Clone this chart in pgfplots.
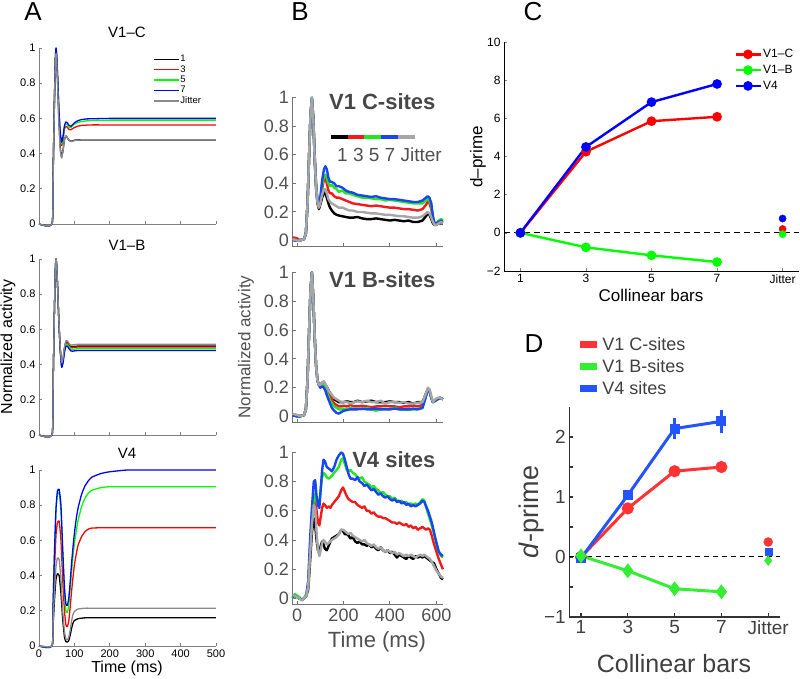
\documentclass[border=0pt]{standalone}
\usepackage{fontspec}
\setmainfont{Liberation Sans}
\usepackage{pgfplots}
\usepackage{pgfplotstable}
\pgfplotsset{compat=1.18}
\newcommand\fs[1]{\fontsize{#1}{#1}\selectfont}

\definecolor{agray}{HTML}{8A8A8A}
\definecolor{bred}{HTML}{F01C1C}
\definecolor{bgreen}{HTML}{22E622}
\definecolor{bblue}{HTML}{1846F0}
\definecolor{bgray}{HTML}{A6A6A6}
\definecolor{dred}{HTML}{FF3333}
\definecolor{dgreen}{HTML}{33EE33}
\definecolor{dblue}{HTML}{2255FF}
\definecolor{ink}{HTML}{505050}

% model time courses (A): t, 1, 3, 5, 7, jitter
\pgfplotstableread{
t   k1    k3    k5    k7    kj
0   0     0     0     0     0
37  0     0     0     0     0
40  0.28  0.3   0.3   0.3   0.28
43  0.62  0.65  0.65  0.65  0.62
46  0.9   0.93  0.93  0.93  0.9
48  0.97  0.99  1     1     0.97
50  0.93  0.95  0.96  0.96  0.92
53  0.78  0.81  0.82  0.82  0.77
56  0.6   0.65  0.66  0.66  0.58
60  0.44  0.5   0.51  0.52  0.42
64  0.38  0.445 0.455 0.465 0.375
68  0.42  0.48  0.49  0.5   0.42
72  0.48  0.54  0.55  0.56  0.48
76  0.5   0.555 0.57  0.58  0.5
80  0.49  0.55  0.565 0.575 0.49
85  0.475 0.537 0.55  0.56  0.475
90  0.47  0.535 0.548 0.555 0.468
95  0.472 0.542 0.558 0.565 0.47
100 0.476 0.548 0.567 0.575 0.474
110 0.478 0.556 0.577 0.587 0.477
120 0.478 0.56  0.582 0.593 0.478
135 0.478 0.562 0.586 0.597 0.478
150 0.478 0.563 0.588 0.598 0.478
175 0.478 0.563 0.589 0.599 0.478
200 0.478 0.563 0.59  0.6   0.478
300 0.478 0.563 0.59  0.6   0.478
500 0.478 0.563 0.59  0.6   0.478
}\tabAc
\pgfplotstableread{
t   k1    k3    k5    k7    kj
0   0     0     0     0     0
37  0     0     0     0     0
40  0.3   0.3   0.3   0.3   0.3
43  0.65  0.65  0.65  0.65  0.65
46  0.93  0.93  0.93  0.93  0.93
48  1     1     1     1     1
50  0.96  0.96  0.96  0.96  0.96
53  0.82  0.82  0.82  0.82  0.82
56  0.65  0.65  0.65  0.65  0.66
60  0.49  0.49  0.48  0.48  0.5
64  0.4   0.395 0.39  0.385 0.41
68  0.43  0.425 0.42  0.41  0.44
72  0.495 0.49  0.48  0.47  0.5
76  0.528 0.522 0.515 0.505 0.535
80  0.528 0.522 0.515 0.505 0.535
85  0.513 0.508 0.5   0.49  0.52
90  0.503 0.497 0.488 0.478 0.51
95  0.502 0.496 0.486 0.476 0.512
100 0.504 0.498 0.488 0.478 0.514
110 0.505 0.5   0.49  0.48  0.515
120 0.505 0.5   0.49  0.48  0.515
135 0.505 0.5   0.49  0.48  0.515
150 0.505 0.5   0.49  0.48  0.515
175 0.505 0.5   0.49  0.48  0.515
200 0.505 0.5   0.49  0.48  0.515
300 0.505 0.5   0.49  0.48  0.515
500 0.505 0.5   0.49  0.48  0.515
}\tabAb
\pgfplotstableread{
t   k1    k3    k5    k7    kj
0   0     0     0     0     0
37  0     0     0     0     0
40  0.12  0.2   0.25  0.25  0.15
44  0.27  0.45  0.55  0.55  0.32
48  0.38  0.63  0.77  0.78  0.45
52  0.41  0.7   0.86  0.88  0.5
57  0.4   0.71  0.87  0.89  0.49
62  0.3   0.6   0.77  0.8   0.38
67  0.15  0.38  0.52  0.55  0.2
72  0.05  0.2   0.3   0.33  0.08
76  0.025 0.12  0.2   0.24  0.04
80  0.022 0.11  0.19  0.23  0.035
84  0.03  0.14  0.23  0.27  0.05
88  0.06  0.22  0.32  0.36  0.09
92  0.1   0.31  0.42  0.47  0.14
96  0.13  0.39  0.51  0.56  0.18
100 0.145 0.46  0.58  0.64  0.195
105 0.15  0.52  0.65  0.72  0.205
110 0.155 0.57  0.71  0.78  0.21
120 0.158 0.62  0.79  0.86  0.213
130 0.16  0.65  0.84  0.91  0.215
140 0.16  0.665 0.87  0.94  0.215
150 0.16  0.67  0.885 0.96  0.215
175 0.16  0.672 0.9   0.98  0.215
200 0.16  0.672 0.905 0.99  0.215
250 0.16  0.672 0.905 1     0.215
300 0.16  0.672 0.905 1     0.215
500 0.16  0.672 0.905 1     0.215
}\tabAv

% recorded time courses (B)
\pgfplotstableread{
t    k1    k3    k5    k7    kj
-20  0.01  0.02  0.01  0.005 0.01
-10  0.005 0.02  0.005 0     0.005
0    0     0.015 0     0     0
10   0     0.005 0     0     0
20   0.005 0.005 0.005 0.005 0.005
30   0.01  0.01  0.01  0.01  0.01
38   0.05  0.05  0.05  0.05  0.05
45   0.25  0.25  0.25  0.25  0.25
52   0.6   0.6   0.6   0.6   0.6
58   0.88  0.88  0.88  0.88  0.88
64   0.99  0.99  1     1     1
70   0.84  0.85  0.86  0.86  0.85
76   0.56  0.58  0.59  0.59  0.57
82   0.36  0.38  0.39  0.39  0.37
88   0.26  0.27  0.28  0.28  0.27
94   0.22  0.23  0.24  0.24  0.23
100  0.25  0.27  0.29  0.3   0.26
108  0.3   0.36  0.39  0.42  0.32
116  0.34  0.43  0.45  0.5   0.36
122  0.33  0.44  0.46  0.52  0.36
128  0.3   0.4   0.44  0.5   0.33
135  0.26  0.35  0.4   0.44  0.29
142  0.23  0.33  0.38  0.41  0.27
150  0.21  0.33  0.39  0.41  0.26
160  0.19  0.31  0.37  0.4   0.25
170  0.18  0.3   0.36  0.38  0.24
180  0.175 0.3   0.34  0.38  0.23
195  0.17  0.29  0.35  0.37  0.23
210  0.165 0.28  0.33  0.35  0.22
225  0.16  0.27  0.33  0.34  0.21
240  0.16  0.26  0.32  0.335 0.21
260  0.165 0.255 0.31  0.32  0.2
280  0.155 0.25  0.3   0.315 0.2
300  0.15  0.245 0.3   0.31  0.195
320  0.15  0.24  0.295 0.305 0.19
340  0.155 0.245 0.29  0.31  0.19
360  0.15  0.24  0.29  0.3   0.185
380  0.145 0.235 0.28  0.295 0.18
400  0.14  0.23  0.285 0.29  0.18
420  0.145 0.23  0.28  0.29  0.175
440  0.14  0.225 0.275 0.285 0.17
460  0.135 0.22  0.27  0.28  0.17
480  0.14  0.22  0.265 0.275 0.165
500  0.13  0.215 0.26  0.27  0.16
520  0.13  0.21  0.26  0.27  0.16
540  0.14  0.22  0.26  0.28  0.17
555  0.17  0.25  0.28  0.3   0.19
562  0.19  0.27  0.29  0.31  0.2
570  0.18  0.26  0.28  0.3   0.19
578  0.15  0.22  0.24  0.26  0.16
585  0.12  0.15  0.16  0.17  0.13
592  0.11  0.12  0.12  0.12  0.11
600  0.11  0.12  0.12  0.12  0.11
610  0.12  0.13  0.14  0.13  0.12
620  0.12  0.13  0.15  0.14  0.13
628  0.12  0.13  0.14  0.13  0.12
}\tabBc
\pgfplotstableread{
t    k1    k3    k5    k7    kj
-20  0.01  0.015 0.01  0.005 0.02
-10  0.01  0.01  0.005 0.005 0.015
0    0.005 0.01  0     0     0.01
10   0     0.005 0     0     0.005
20   0.005 0.005 0.005 0.005 0.005
30   0.01  0.01  0.01  0.01  0.01
38   0.05  0.05  0.05  0.05  0.05
45   0.25  0.25  0.25  0.25  0.25
52   0.6   0.6   0.6   0.6   0.6
58   0.88  0.88  0.88  0.88  0.88
64   1     1     1     1     1
70   0.82  0.82  0.82  0.82  0.82
76   0.55  0.55  0.55  0.55  0.55
82   0.35  0.35  0.35  0.35  0.35
88   0.25  0.25  0.25  0.25  0.25
94   0.22  0.22  0.22  0.22  0.22
100  0.22  0.22  0.21  0.2   0.22
108  0.235 0.23  0.22  0.21  0.235
115  0.24  0.235 0.22  0.2   0.245
122  0.22  0.21  0.2   0.18  0.225
130  0.2   0.18  0.16  0.14  0.2
140  0.17  0.15  0.12  0.1   0.17
150  0.14  0.12  0.09  0.06  0.15
160  0.12  0.09  0.07  0.04  0.13
170  0.11  0.08  0.06  0.025 0.12
180  0.1   0.07  0.05  0.02  0.11
190  0.1   0.07  0.05  0.03  0.1
200  0.1   0.075 0.055 0.04  0.1
215  0.105 0.07  0.05  0.045 0.1
230  0.1   0.08  0.06  0.05  0.09
245  0.1   0.07  0.05  0.05  0.1
260  0.11  0.07  0.055 0.05  0.105
280  0.1   0.075 0.05  0.055 0.1
300  0.105 0.07  0.06  0.05  0.11
320  0.11  0.065 0.05  0.05  0.1
340  0.1   0.07  0.04  0.055 0.1
360  0.1   0.07  0.05  0.05  0.11
380  0.1   0.075 0.055 0.05  0.09
400  0.105 0.07  0.05  0.05  0.1
420  0.1   0.07  0.06  0.055 0.1
440  0.1   0.065 0.05  0.05  0.095
460  0.095 0.07  0.05  0.05  0.1
480  0.1   0.07  0.045 0.05  0.09
500  0.09  0.075 0.05  0.055 0.09
520  0.1   0.07  0.05  0.05  0.095
540  0.1   0.08  0.06  0.06  0.1
555  0.16  0.15  0.14  0.14  0.16
563  0.19  0.19  0.19  0.19  0.2
570  0.18  0.18  0.18  0.18  0.19
578  0.13  0.13  0.13  0.13  0.14
585  0.1   0.1   0.1   0.1   0.1
595  0.11  0.11  0.11  0.11  0.12
605  0.12  0.12  0.12  0.12  0.13
615  0.13  0.13  0.13  0.13  0.13
628  0.12  0.12  0.12  0.12  0.12
}\tabBb
\pgfplotstableread{
t    k1    k3    k5    k7    kj
-20  0.01  0.01  0     0.01  0.02
-10  0.02  0.02  0.03  0.02  0.02
0    0.01  0.01  0.02  0.01  0.01
10   0     0     0.01  0     0
20   -0.01 -0.01 -0.01 -0.01 -0.015
30   0     0     0     0     0
40   0.02  0.02  0.03  0.02  0.02
48   0.06  0.08  0.1   0.12  0.08
56   0.25  0.3   0.35  0.4   0.3
64   0.45  0.55  0.55  0.62  0.5
72   0.55  0.67  0.68  0.8   0.64
78   0.5   0.7   0.72  0.81  0.62
84   0.4   0.6   0.66  0.7   0.45
90   0.33  0.52  0.64  0.64  0.33
96   0.31  0.5   0.66  0.62  0.29
102  0.36  0.56  0.75  0.75  0.33
108  0.39  0.62  0.83  0.88  0.38
114  0.37  0.65  0.86  0.95  0.4
120  0.34  0.64  0.85  0.94  0.39
128  0.33  0.62  0.83  0.9   0.37
136  0.36  0.63  0.82  0.89  0.38
144  0.39  0.62  0.83  0.88  0.39
150  0.41  0.64  0.84  0.87  0.4
160  0.42  0.66  0.86  0.9   0.41
170  0.43  0.68  0.88  0.95  0.42
180  0.44  0.7   0.9   0.98  0.44
190  0.47  0.74  0.95  1     0.47
198  0.46  0.76  0.96  0.99  0.47
206  0.44  0.73  0.92  0.95  0.46
214  0.44  0.7   0.88  0.9   0.45
222  0.43  0.68  0.87  0.85  0.44
230  0.41  0.67  0.88  0.82  0.45
240  0.42  0.66  0.86  0.82  0.43
250  0.39  0.66  0.85  0.81  0.42
260  0.38  0.64  0.83  0.83  0.41
270  0.39  0.63  0.82  0.8   0.4
280  0.37  0.62  0.83  0.79  0.39
290  0.37  0.63  0.8   0.77  0.4
300  0.36  0.6   0.79  0.78  0.38
310  0.37  0.6   0.78  0.76  0.37
320  0.35  0.58  0.76  0.74  0.36
330  0.36  0.59  0.77  0.75  0.37
340  0.34  0.57  0.75  0.73  0.35
350  0.33  0.56  0.74  0.71  0.34
360  0.35  0.56  0.72  0.72  0.35
370  0.33  0.55  0.73  0.7   0.33
380  0.32  0.55  0.71  0.69  0.32
390  0.33  0.54  0.7   0.7   0.33
400  0.31  0.53  0.7   0.68  0.32
410  0.32  0.52  0.68  0.67  0.31
420  0.3   0.52  0.69  0.68  0.32
430  0.28  0.51  0.67  0.66  0.3
440  0.3   0.52  0.66  0.67  0.31
450  0.29  0.51  0.67  0.65  0.3
460  0.28  0.5   0.65  0.66  0.29
470  0.27  0.51  0.66  0.64  0.3
480  0.29  0.49  0.64  0.65  0.29
490  0.28  0.5   0.65  0.63  0.3
500  0.27  0.48  0.64  0.64  0.29
510  0.29  0.49  0.65  0.63  0.28
520  0.28  0.47  0.64  0.64  0.29
530  0.29  0.48  0.66  0.65  0.3
540  0.28  0.49  0.68  0.67  0.29
548  0.29  0.48  0.67  0.66  0.3
556  0.28  0.47  0.62  0.63  0.29
564  0.27  0.48  0.58  0.6   0.28
572  0.26  0.47  0.54  0.56  0.27
580  0.25  0.43  0.5   0.52  0.25
590  0.24  0.37  0.44  0.45  0.22
600  0.2   0.32  0.38  0.38  0.19
610  0.17  0.27  0.32  0.32  0.17
620  0.14  0.23  0.29  0.3   0.15
628  0.13  0.2   0.28  0.29  0.14
}\tabBv

\pgfplotsset{
  /pgf/number format/assume math mode=true,
  Abase/.style={scale only axis, width=177pt, height=176pt,
    xmin=0, xmax=500, ymin=0, ymax=1,
    axis x line*=bottom, axis y line*=left, tick align=inside, major tick length=3pt,
    axis line style={draw=black!50, line width=0.6pt}, tick style={black!50, line width=0.6pt},
    xtick={0,100,200,300,400,500}, ytick={0,0.2,0.4,0.6,0.8,1},
    yticklabels={0,0.2,0.4,0.6,0.8,1},
    tick label style={font=\fs{11}}, clip=false,
    every axis plot/.append style={line width=1.3pt, smooth, tension=0.3, line join=round}},
  Bbase/.style={scale only axis, width=151pt, height=150pt,
    xmin=-20, xmax=630, ymin=-0.045, ymax=1,
    axis x line*=bottom, axis y line*=left, tick align=inside, major tick length=4pt,
    axis line style={draw=black!55, line width=1pt}, tick style={black!55, line width=1pt},
    xtick={0,200,400,600}, ytick={0,0.2,0.4,0.6,0.8,1},
    yticklabels={0,0.2,0.4,0.6,0.8,1},
    tick label style={font=\fs{18}, text=ink}, clip=false,
    every axis plot/.append style={line width=2.4pt, line join=round}},
}

\begin{document}
\begin{tikzpicture}[x=1pt,y=1pt]
\useasboundingbox (0,0) rectangle (800,679);

% ---------- A ----------
\begin{axis}[Abase, at={(39pt,455pt)}, anchor=south west, xticklabels={},
  legend style={at={(0.644,0.965)}, anchor=north west, draw=none, fill=none,
    font=\fs{9.5}, row sep=0.3pt, inner sep=0pt, nodes={inner sep=1pt}},
  legend cell align=left,
  legend image code/.code={\draw[#1] (0pt,0pt) -- (25pt,0pt);}]
\addplot[black] table[x=t,y=k1]{\tabAc};
\addplot[red] table[x=t,y=k3]{\tabAc};
\addplot[green] table[x=t,y=k5]{\tabAc};
\addplot[blue] table[x=t,y=k7]{\tabAc};
\addplot[agray] table[x=t,y=kj]{\tabAc};
\legend{1,3,5,7,Jitter}
\end{axis}
\begin{axis}[Abase, at={(39pt,244pt)}, anchor=south west, xticklabels={}]
\addplot[black] table[x=t,y=k1]{\tabAb};
\addplot[red] table[x=t,y=k3]{\tabAb};
\addplot[green] table[x=t,y=k5]{\tabAb};
\addplot[blue] table[x=t,y=k7]{\tabAb};
\addplot[agray] table[x=t,y=kj]{\tabAb};
\end{axis}
\begin{axis}[Abase, at={(39pt,33pt)}, anchor=south west]
\addplot[black] table[x=t,y=k1]{\tabAv};
\addplot[red] table[x=t,y=k3]{\tabAv};
\addplot[green] table[x=t,y=k5]{\tabAv};
\addplot[blue] table[x=t,y=k7]{\tabAv};
\addplot[agray] table[x=t,y=kj]{\tabAv};
\end{axis}
\node[font=\fs{26}] at (33,667) {A};
\node[font=\fs{15}] at (127,647) {V1–C};
\node[font=\fs{15}] at (127,434) {V1–B};
\node[font=\fs{15}] at (127,226) {V4};
\node[font=\fs{16}] at (127,11) {Time (ms)};
\node[font=\fs{16}, rotate=90] at (8,332) {Normalized activity};

% ---------- B ----------
\begin{axis}[Bbase, at={(292.4pt,432pt)}, anchor=south west, height=149.4pt, xticklabels={}]
\addplot[black] table[x=t,y=k1]{\tabBc};
\addplot[bred] table[x=t,y=k3]{\tabBc};
\addplot[bgreen] table[x=t,y=k5]{\tabBc};
\addplot[bblue] table[x=t,y=k7]{\tabBc};
\addplot[bgray] table[x=t,y=kj]{\tabBc};
\end{axis}
\begin{axis}[Bbase, at={(292.4pt,256pt)}, anchor=south west, height=150.5pt, xticklabels={}]
\addplot[black] table[x=t,y=k1]{\tabBb};
\addplot[bred] table[x=t,y=k3]{\tabBb};
\addplot[bgreen] table[x=t,y=k5]{\tabBb};
\addplot[bblue] table[x=t,y=k7]{\tabBb};
\addplot[bgray] table[x=t,y=kj]{\tabBb};
\end{axis}
\begin{axis}[Bbase, at={(292.4pt,74pt)}, anchor=south west, height=152.6pt]
\addplot[black] table[x=t,y=k1]{\tabBv};
\addplot[bred] table[x=t,y=k3]{\tabBv};
\addplot[bgreen] table[x=t,y=k5]{\tabBv};
\addplot[bblue] table[x=t,y=k7]{\tabBv};
\addplot[bgray] table[x=t,y=kj]{\tabBv};
\end{axis}
\node[font=\fs{26}] at (300,667) {B};
\node[font=\bfseries\fs{22}, text=black!72, anchor=east] at (439,577.5) {V1 C-sites};
\node[font=\bfseries\fs{22}, text=black!72, anchor=east] at (439,399) {V1 B-sites};
\node[font=\bfseries\fs{22}, text=black!72, anchor=east] at (439,219) {V4 sites};
\draw[line width=4pt, black] (330.7,541.7) -- (347.6,541.7);
\draw[line width=4pt, bred] (347.6,541.7) -- (364.4,541.7);
\draw[line width=4pt, bgreen] (364.4,541.7) -- (381.3,541.7);
\draw[line width=4pt, bblue] (381.3,541.7) -- (398.1,541.7);
\draw[line width=4pt, bgray] (398.1,541.7) -- (415,541.7);
\node[font=\fs{19}, text=ink, anchor=west, inner sep=0pt] at (337,524) {1 3 5 7 Jitter};
\node[font=\fs{22}, text=ink] at (377,37) {Time (ms)};
\node[font=\fs{17}, text=ink, rotate=90] at (246,332) {Normalized activity};

% ---------- C ----------
\begin{axis}[scale only axis, at={(504pt,408pt)}, anchor=south west,
  width=295pt, height=229pt, xmin=0.5, xmax=9.5, ymin=-2, ymax=10,
  axis x line*=bottom, axis y line*=left, tick align=inside, major tick length=3pt,
  axis line style={line width=0.6pt}, tick style={line width=0.6pt},
  xtick={1,3,5,7,9}, xticklabels={1,3,5,7,Jitter},
  ytick={-2,0,2,4,6,8,10}, yticklabels={−2,0,2,4,6,8,10},
  tick label style={font=\fs{12}}, clip=false,
  legend style={at={(0.78,0.975)}, anchor=north west, draw=none, fill=none,
    font=\fs{12}, row sep=3pt, inner sep=0pt, nodes={inner sep=1.5pt}},
  legend cell align=left,
  legend image code/.code={\draw[mark repeat=2,mark phase=2,#1] plot coordinates {(0pt,0pt) (12.5pt,0pt) (25pt,0pt)};}]
\addplot[black, dashed, dash pattern=on 6pt off 4pt, line width=0.8pt, forget plot] coordinates {(0.5,0) (9.5,0)};
\addplot[red, line width=2.4pt, mark=*, mark size=3.6pt] coordinates {(1,0) (3,4.25) (5,5.85) (7,6.08)};
\addplot[green, line width=2.4pt, mark=*, mark size=3.6pt] coordinates {(1,0) (3,-0.76) (5,-1.18) (7,-1.53)};
\addplot[blue, line width=2.4pt, mark=*, mark size=3.6pt] coordinates {(1,0) (3,4.5) (5,6.85) (7,7.8)};
\addplot[blue, only marks, mark=*, mark size=3.6pt, forget plot] coordinates {(9,0.75)};
\addplot[red, only marks, mark=*, mark size=3.6pt, forget plot] coordinates {(9,0.2)};
\addplot[green, only marks, mark=*, mark size=3.6pt, forget plot] coordinates {(9,-0.07)};
\legend{V1–C,V1–B,V4}
\end{axis}
\node[font=\fs{26}] at (533,667) {C};
\node[font=\fs{17}] at (651,384) {Collinear bars};
\node[font=\fs{17}, rotate=90] at (478,522) {d–prime};

% ---------- D ----------
\begin{axis}[scale only axis, at={(569.3pt,62pt)}, anchor=south west,
  width=210.6pt, height=210pt, xmin=0.5, xmax=9.5, ymin=-1, ymax=2.5,
  axis x line*=bottom, axis y line*=left, tick align=inside, major tick length=4pt,
  axis line style={draw=black!80, line width=1.1pt}, tick style={black!80, line width=1.1pt},
  xtick={1,3,5,7,9}, xticklabels={1,3,5,7,Jitter},
  ytick={-1,-0.5,0,0.5,1,1.5,2}, yticklabels={−1,,0,,1,,2},
  tick label style={font=\fs{19}, text=black!75}, clip=false,
  legend style={at={(0.035,1.34)}, anchor=north west, draw=none, fill=none,
    font=\fs{18}, text=black!75, row sep=4.5pt, inner sep=0pt, nodes={inner sep=1.5pt}},
  legend cell align=left,
  legend image code/.code={\draw[#1, line width=7pt] (0pt,0pt) -- (17pt,0pt);}]
\addplot[black, dash pattern=on 5pt off 4pt, line width=1pt, forget plot] coordinates {(0.5,0) (9.5,0)};
\addplot[dred, line width=3pt, mark=*, mark size=4.5pt, forget plot,
  error bars/.cd, y dir=both, y explicit, error bar style={line width=2.6pt}, error mark=none]
  coordinates {(1,0) +- (0,0.03) (3,0.81) +- (0,0.04) (5,1.43) +- (0,0.06) (7,1.5) +- (0,0.07)};
\addplot[dblue, line width=3pt, mark=square*, mark size=3.5pt, forget plot,
  error bars/.cd, y dir=both, y explicit, error bar style={line width=2.6pt}, error mark=none]
  coordinates {(1,-0.02) +- (0,0.03) (3,1.03) +- (0,0.07) (5,2.14) +- (0,0.17) (7,2.26) +- (0,0.19)};
\addplot[dgreen, line width=3pt, mark=diamond*, mark size=5pt, forget plot,
  error bars/.cd, y dir=both, y explicit, error bar style={line width=2.6pt}, error mark=none]
  coordinates {(1,0.02) +- (0,0.03) (3,-0.23) +- (0,0.04) (5,-0.53) +- (0,0.05) (7,-0.58) +- (0,0.06)};
\addplot[dred, only marks, mark=*, mark size=4.5pt, forget plot,
  error bars/.cd, y dir=both, y explicit, error bar style={line width=2.6pt}, error mark=none]
  coordinates {(9,0.25) +- (0,0.03)};
\addplot[dblue, only marks, mark=square*, mark size=3.5pt, forget plot,
  error bars/.cd, y dir=both, y explicit, error bar style={line width=2.6pt}, error mark=none]
  coordinates {(9,0.08) +- (0,0.04)};
\addplot[dgreen, only marks, mark=diamond*, mark size=5pt, forget plot,
  error bars/.cd, y dir=both, y explicit, error bar style={line width=2.6pt}, error mark=none]
  coordinates {(9,-0.06) +- (0,0.03)};
\addlegendimage{dred}
\addlegendentry{V1 C-sites}
\addlegendimage{dgreen}
\addlegendentry{V1 B-sites}
\addlegendimage{dblue}
\addlegendentry{V4 sites}
\end{axis}
\node[font=\fs{26}] at (534,335) {D};
\node[font=\fs{25}, text=black!75] at (674,15) {Collinear bars};
\node[font=\fs{27}, text=black!75, rotate=90] at (532,167) {\textit{d}-prime};
\end{tikzpicture}
\end{document}
